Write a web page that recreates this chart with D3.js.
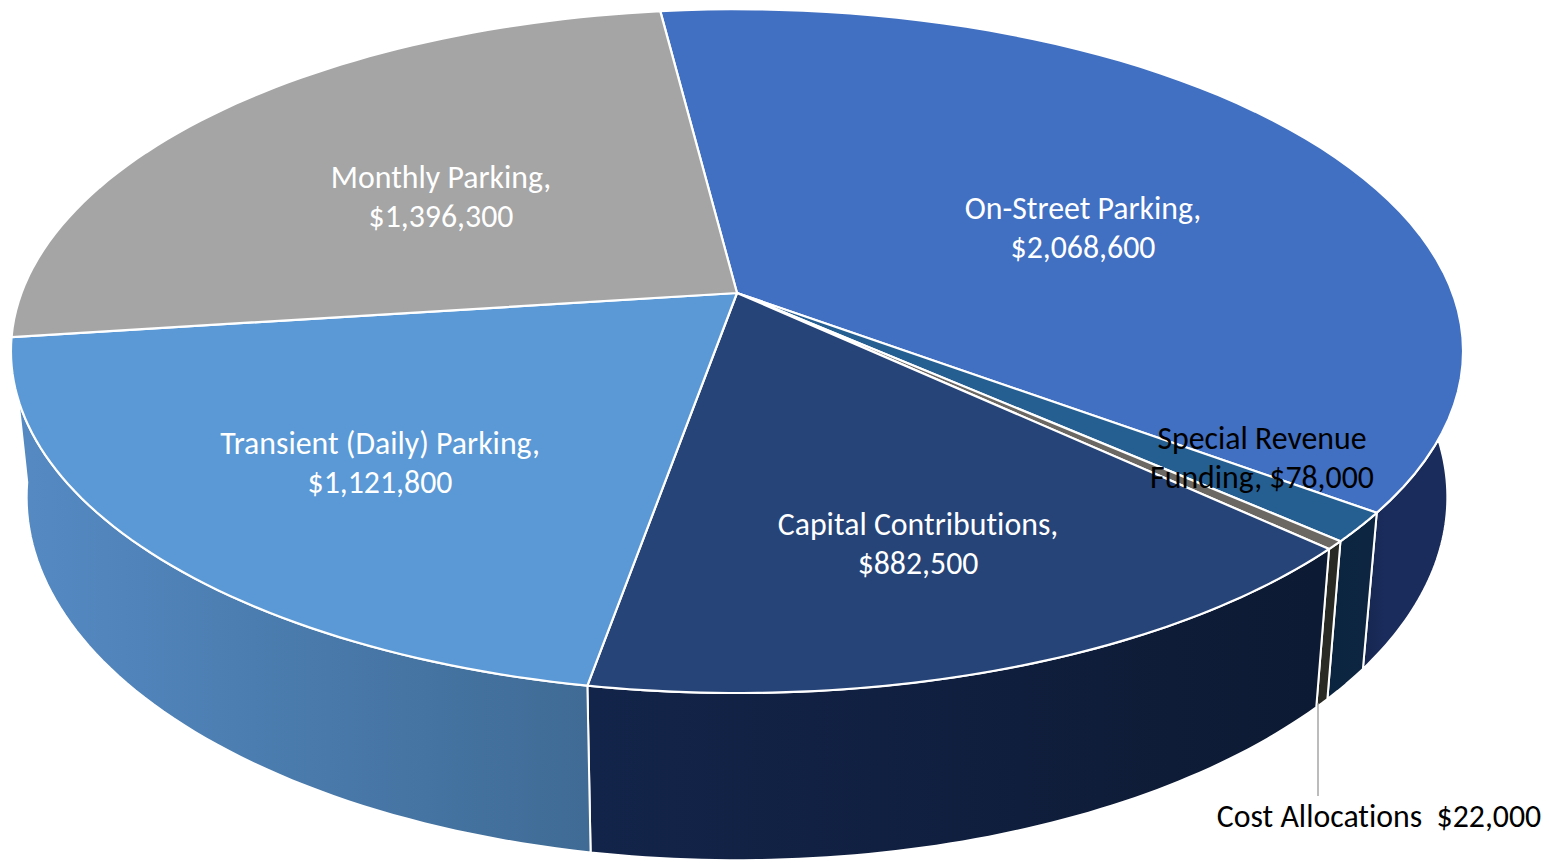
<!DOCTYPE html>
<html><head><meta charset="utf-8">
<style>html,body{margin:0;padding:0;background:#fff}svg{display:block}text{font-family:Carlito,Lato,sans-serif;font-size:31.8px;white-space:pre;font-variant-ligatures:none}</style>
<script src="https://cdnjs.cloudflare.com/ajax/libs/d3/7.9.0/d3.min.js"></script>
</head><body><svg id="c" width="1549" height="865"></svg>
<script>
const categories=["On-Street Parking","Special Revenue Funding","Cost Allocations","Capital Contributions","Transient (Daily) Parking","Monthly Parking"];
const values=[2068600,78000,22000,882500,1121800,1396300];
const valueLabels=["$2,068,600","$78,000","$22,000","$882,500","$1,121,800","$1,396,300"];
const topColors=["#4170c2","#255e91","#6b6763","#264478","#5a99d6","#a5a5a5"];
const sideFrom=["#1a2c5c","#0a2440","#2a2a24","#13244a","#5489c2","#888"];
const sideTo=["#16264f","#0d2540","#2a2a24","#0d1a33","#3f6b95","#888"];
const labelLayout=[
 {lines:["On-Street Parking,","$2,068,600"],x:1083,y:219,fill:"#fff"},
 {lines:["Special Revenue","Funding, $78,000"],x:1262,y:449,fill:"#000"},
 {lines:["Cost Allocations  $22,000"],x:1379,y:827,fill:"#000"},
 {lines:["Capital Contributions,","$882,500"],x:918,y:535,fill:"#fff"},
 {lines:["Transient (Daily) Parking,","$1,121,800"],x:380,y:454,fill:"#fff"},
 {lines:["Monthly Parking,","$1,396,300"],x:441,y:188,fill:"#fff"}];
const svg=d3.select("#c");
const K=0.17;
const disc=(cx,cy,a,b)=>ang=>{const u=Math.sin(ang),v=-Math.cos(ang),w=1-K*v;return [cx+a*u/w,cy+b*v/w];};
const topP=disc(737,293,715.5,332), botP=disc(737,435.5,700,352.5);
const rad=d3.scaleLinear().domain([0,360]).range([0,2*Math.PI]);
const arcs=d3.pie().sort(null).value(d=>d).startAngle(rad(-7.2)).endAngle(rad(352.8))(values);
const line=d3.line();
const samples=(a,b)=>d3.range(0,61).map(i=>a+(b-a)*i/60);
const defs=svg.append("defs");
arcs.forEach((d,i)=>{
  const x0=botP(Math.max(d.startAngle,rad(75)))[0],x1=botP(Math.min(d.endAngle,rad(285)))[0];
  const g=defs.append("linearGradient").attr("id","g"+i).attr("gradientUnits","userSpaceOnUse")
   .attr("x1",i==4?31:Math.min(x0,x1)).attr("x2",i==4?588:Math.max(x0,x1)).attr("y1",0).attr("y2",0);
  g.append("stop").attr("offset",0).attr("stop-color",i==0?sideTo[i]:sideFrom[i]);
  g.append("stop").attr("offset",1).attr("stop-color",i==0?sideFrom[i]:sideTo[i]);
});
// walls: on-street from its right tangent down, through the front, ending with the transient slice
const lo=rad(80);
const walls=arcs.slice(0,5).map((d,i)=>({i,a:Math.max(d.startAngle,lo),b:d.endAngle}));
svg.selectAll("path.wall").data(walls).join("path").attr("class","wall")
 .attr("d",d=>line(samples(d.a,d.b).map(topP).concat(samples(d.b,d.a).map(botP)))+"Z")
 .attr("fill",d=>`url(#g${d.i})`).attr("stroke","#fff").attr("stroke-width",2).attr("stroke-linejoin","round");
// top face
svg.selectAll("path.top").data(arcs).join("path").attr("class","top")
 .attr("d",d=>line([[737,293]].concat(samples(d.startAngle,d.endAngle).map(topP)))+"Z")
 .attr("fill",(d,i)=>topColors[i]).attr("stroke","#fff").attr("stroke-width",2.2).attr("stroke-linejoin","round");
// leader for smallest slice
const costMid=botP((arcs[2].startAngle+arcs[2].endAngle)/2);
svg.append("line").attr("x1",1318).attr("x2",1318).attr("y1",costMid[1]).attr("y2",796).attr("stroke","#a6a6a6").attr("stroke-width",1.5);
labelLayout.forEach((l,i)=>{
  l.lines.forEach((t,j)=>svg.append("text").attr("x",l.x).attr("y",l.y+j*39).attr("text-anchor","middle").attr("fill",l.fill).text(t));
});
</script></body></html>
